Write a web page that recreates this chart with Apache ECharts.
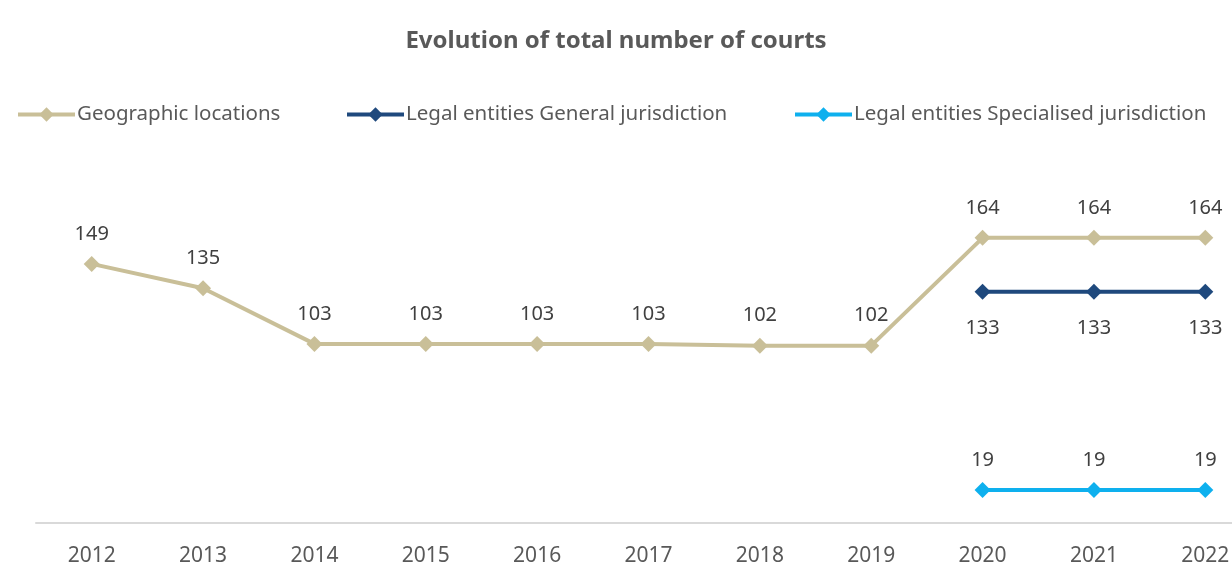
<!DOCTYPE html>
<html>
<head>
<meta charset="utf-8">
<script src="https://cdn.jsdelivr.net/npm/echarts@6/dist/echarts.min.js"></script>
<style>
  html, body { margin: 0; padding: 0; background: #fff; }
  #chart { width: 1232px; height: 562px; }
</style>
</head>
<body>
<div id="chart"></div>
<script>
// data
const years = ['2012', '2013', '2014', '2015', '2016', '2017', '2018', '2019', '2020', '2021', '2022'];
const geographic = [149, 135, 103, 103, 103, 103, 102, 102, 164, 164, 164];
const generalJur = [null, null, null, null, null, null, null, null, 133, 133, 133];
const specialJur = [null, null, null, null, null, null, null, null, 19, 19, 19];

const FONT = "'Noto Sans', 'DejaVu Sans', sans-serif";
const textCol = '#595959';

const chart = echarts.init(document.getElementById('chart'));

function legendAt(name, left) {
    return {
        data: [name],
        left: left,
        top: 104,
        padding: 0,
        itemWidth: 57,
        itemHeight: 18,
        lineStyle: { width: 4 },
        textStyle: { fontFamily: FONT, fontSize: 20.5, color: textCol, padding: [0, 0, 0, -3] }
    };
}

function mkSeries(name, data, color, labelPos, labelDist) {
    return {
        name: name,
        type: 'line',
        data: data,
        symbol: 'diamond',
        symbolSize: 16,
        lineStyle: { width: 4, color: color },
        itemStyle: { color: color },
        label: {
            show: true,
            position: labelPos,
            distance: labelDist,
            fontFamily: FONT,
            fontSize: 20,
            color: '#404040'
        },
        emphasis: { disabled: true },
        animation: false
    };
}

let option = {
    backgroundColor: '#fff',
    title: {
        text: 'Evolution of total number of courts',
        left: 'center',
        top: 24,
        textStyle: { fontFamily: FONT, fontSize: 24, fontWeight: 'bold', color: textCol }
    },
    legend: [
        legendAt('Geographic locations', 16),
        legendAt('Legal entities General jurisdiction', 345),
        legendAt('Legal entities Specialised jurisdiction', 793)
    ],
    grid: { left: 36, width: 1225, top: 210, bottom: 39, outerBoundsMode: 'none' },
    xAxis: {
        type: 'category',
        data: years,
        boundaryGap: true,
        axisLine: { lineStyle: { color: '#d9d9d9', width: 2 } },
        axisTick: { show: false },
        axisLabel: { margin: 23, fontFamily: FONT, fontSize: 21, color: textCol }
    },
    yAxis: {
        type: 'value',
        min: 0,
        max: 180,
        show: false,
        splitLine: { show: false }
    },
    series: [
        mkSeries('Geographic locations', geographic, '#c9bf98', 'top', 12),
        mkSeries('Legal entities General jurisdiction', generalJur, '#1f497d', 'bottom', 19),
        mkSeries('Legal entities Specialised jurisdiction', specialJur, '#0eb0ee', 'top', 12)
    ]
};

chart.setOption(option);
</script>
</body>
</html>
